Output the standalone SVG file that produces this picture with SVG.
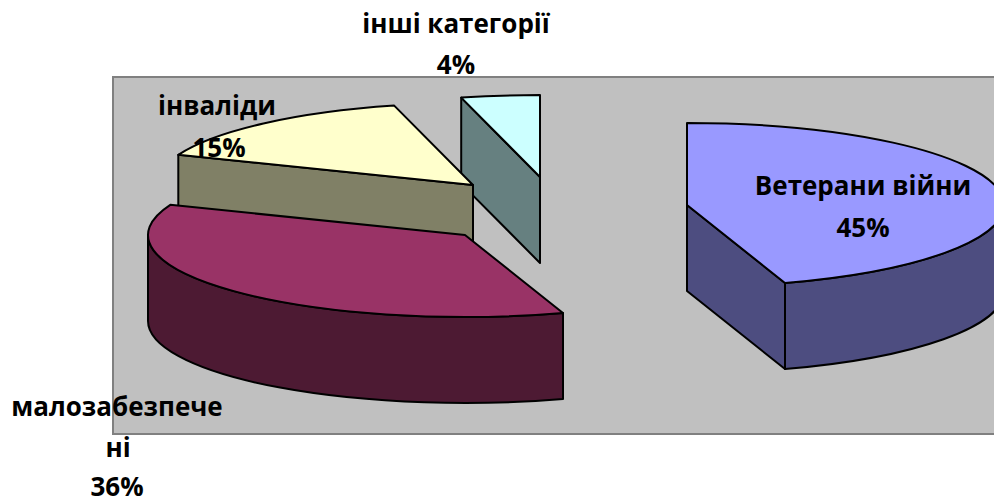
<svg xmlns="http://www.w3.org/2000/svg" width="994" height="503" viewBox="0 0 994 503">
<style>
.plot{fill:#C0C0C0;stroke:#808080;stroke-width:2}
.s{stroke:#000;stroke-width:2;stroke-linejoin:round}
.lbl{font-family:"Open Sans","Liberation Sans",sans-serif;font-weight:bold;font-size:26px;fill:#000;text-anchor:middle}
</style>
<rect width="994" height="503" fill="#FFFFFF"/>
<rect class="plot" x="113" y="77" width="900" height="357"/>
<g id="slice-other">
<path class="s" fill="#668080" d="M540,177 L461.2,97.6 L461.2,183.6 L540,263 Z"/>
<path class="s" fill="#CCFFFF" d="M540,177 L461.2,97.6 A317 82 0 0 1 540,95 Z"/>
</g>
<g id="slice-invalids">
<path class="s" fill="#808066" d="M473,185 L178.3,154.8 L178.3,240.8 L473,271 Z"/>
<path class="s" fill="#FFFFCC" d="M473,185 L178.3,154.8 A317 82 0 0 1 394.2,105.6 Z"/>
</g>
<g id="slice-lowincome">
<path class="s" fill="#4D1A33" d="M563,313 A317 82 0 0 1 148,235 L148,321 A317 82 0 0 0 563,399 Z"/>
<path class="s" fill="#993366" d="M465,235 L563,313 A317 82 0 0 1 170.3,204.8 Z"/>
</g>
<g id="slice-veterans">
<path class="s" fill="#4D4D80" d="M687,205 L785,283 L785,369 L687,291 Z"/>
<path class="s" fill="#4D4D80" d="M785,283 A317 82 0 0 0 1004,205 L1004,291 A317 82 0 0 1 785,369 Z"/>
<path class="s" fill="#9999FF" d="M687,205 L687,123 A317 82 0 0 1 785,283 Z"/>
</g>
<g id="labels">
<text class="lbl" x="456" y="33">інші категорії</text>
<text class="lbl" x="456" y="74">4%</text>
<text class="lbl" x="217" y="115">інваліди</text>
<text class="lbl" x="219" y="157">15%</text>
<text class="lbl" x="863" y="195">Ветерани війни</text>
<text class="lbl" x="863" y="237">45%</text>
<text class="lbl" x="117" y="416">малозабезпече</text>
<text class="lbl" x="118" y="457">ні</text>
<text class="lbl" x="117" y="496">36%</text>
</g>
</svg>
